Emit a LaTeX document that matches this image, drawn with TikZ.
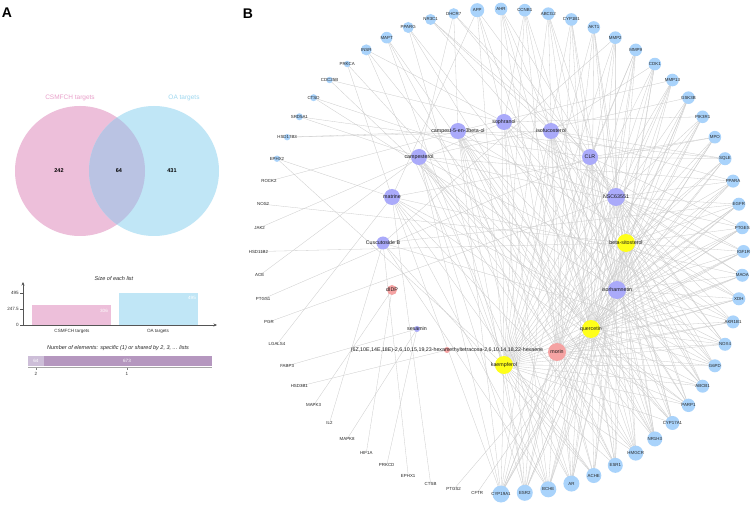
\documentclass[tikz,border=0pt]{standalone}
\usepackage{fontspec}
\setmainfont{Liberation Sans}
\usetikzlibrary{backgrounds,arrows.meta}
\definecolor{tblue}{HTML}{A9D3FB}
\definecolor{cpurple}{HTML}{AAAAFA}
\definecolor{cyellow}{HTML}{FFFF1A}
\definecolor{cred}{HTML}{F5A3A3}
\definecolor{vpink}{HTML}{EDBFDA}
\definecolor{vblue}{HTML}{C0E6F6}
\definecolor{vover}{HTML}{BAC3E3}
\definecolor{vpinktxt}{HTML}{E9A0CA}
\definecolor{vbluetxt}{HTML}{9FD8F0}
\definecolor{elight}{HTML}{CDBED8}
\definecolor{edark}{HTML}{B597BF}
\definecolor{edgecol}{HTML}{CBCBCB}
\definecolor{axcol}{HTML}{555555}
\begin{document}
\begin{tikzpicture}[x=1pt,y=-1pt,
  panel/.style={font=\fontsize{14}{14}\selectfont\bfseries,inner sep=0pt},
  vlab/.style={font=\fontsize{6.5}{7}\selectfont,inner sep=0pt},
  vnum/.style={font=\fontsize{5.5}{6}\selectfont\bfseries,inner sep=0pt},
  small/.style={font=\fontsize{4.6}{5}\selectfont,inner sep=0pt,text=black!80},
  btitle/.style={font=\fontsize{5.5}{6}\selectfont\itshape,inner sep=0pt,text=black!85},
  wnum/.style={font=\fontsize{4.6}{5}\selectfont,inner sep=0pt,text=white},
  axis/.style={draw=axcol,line width=0.5pt},
  tlabel/.style={font=\fontsize{4.4}{5}\selectfont,inner sep=0pt,text=black!85},
  clabel/.style={font=\fontsize{5.3}{6}\selectfont,inner sep=0pt,text=black!90},
  comp/.style={circle,inner sep=0pt,minimum size=#1},
  edge/.style={draw=edgecol,line width=0.3pt}]
\useasboundingbox (0,0) rectangle (753,505);
% ---------------- Panel A ----------------
\node[panel] (pA) at (7,13) {A};
\fill[vpink] (80,171) circle (65);
\fill[vblue] (154,171) circle (65);
\begin{scope}
  \clip (80,171) circle (65);
  \fill[vover] (154,171) circle (65);
\end{scope}
\node[vlab,text=vpinktxt] (vl1) at (70,98) {CSMFCH targets};
\node[vlab,text=vbluetxt] (vl2) at (184,98) {OA targets};
\node[vnum] (n1) at (59,171) {242};
\node[vnum] (n2) at (119,171) {64};
\node[vnum] (n3) at (172,171) {431};
% bar chart
\node[btitle] (bt1) at (114,279) {Size of each list};
\fill[vpink] (32,305) rectangle (111,325);
\fill[vblue] (119,293) rectangle (198,325);
\node[wnum] (b1) at (104,311) {306};
\node[wnum] (b2) at (192,298) {495};
\coordinate (o) at (23,325);
\coordinate (ytop) at (23,282);
\coordinate (xend) at (217,325);
\draw[axis,-{Stealth[length=3.5pt,width=3pt]}] (o) -- (ytop);
\draw[axis,-{Stealth[length=3.5pt,width=3pt]}] (o) -- (xend);
\foreach \yy/\tx [count=\k] in {293/495,309/247.5,325/0}{
  \draw[axis] (20,\yy) -- (23,\yy);
  \node[small,anchor=east] (tk\k) at (19,\yy) {\tx};
}
\node[small] (cat1) at (72,331) {CSMFCH targets};
\node[small] (cat2) at (158,331) {OA targets};
% elements bar
\node[btitle] (bt2) at (118,348) {Number of elements: specific (1) or shared by 2, 3, ... lists};
\fill[elight] (28,356) rectangle (44,366);
\fill[edark] (44,356) rectangle (212,366);
\node[wnum] (e1) at (36,361) {64};
\node[wnum] (e2) at (127,361) {673};
\draw[draw=black!35,line width=0.5pt] (28,367.5) -- (212,367.5);
\draw[draw=black!50,line width=0.4pt] (36,367.5) -- (36,369.5) (127,367.5) -- (127,369.5);
\node[small] (e3) at (36,374) {2};
\node[small] (e4) at (127,374) {1};
% ---------------- Panel B ----------------
\node[panel] (pB) at (248,13.5) {B};
% compounds
\foreach \n/\px/\py/\r/\col/\nm in {
 1/504/122/16/cpurple/sophranol,
 2/551/131/16/cpurple/isofucosterol,
 3/590/157/16/cpurple/CLR,
 4/616/197/18/cpurple/NSC63551,
 5/626/243/18/cyellow/beta-sitosterol,
 6/617/290/18/cpurple/isorhamnetin,
 7/591/329/18/cyellow/quercetin,
 8/557/352/18/cred/morin,
 9/504/365/18/cyellow/kaempferol,
 10/447/350/6/cred/{(6Z,10E,14E,18E)-2,6,10,15,19,23-hexamethyltetracosa-2,6,10,14,18,22-hexaene},
 11/417/329/6/cpurple/sesamin,
 12/392/290/10/cred/dIDP,
 13/383/243/13/cpurple/Cuscutoside B,
 14/392/197/16/cpurple/matrine,
 15/419/157/16/cpurple/campesterol,
 16/458/131/16/cpurple/campest-5-en-3beta-ol}{
  \node[comp=\r,fill=\col,label={[clabel]center:\nm}] (c\n) at (\px,\py) {};
}
% targets
\foreach \i/\nm/\r in {
1/DHCR7/5.5, 2/APP/7, 3/AHR/6.3, 4/CCNB1/6.3, 5/ABCG2/6.3, 6/CYP1B1/6.3,
7/AKT1/6.3, 8/MMP2/6.3, 9/MMP9/6.3, 10/CDK1/6.3, 11/MMP13/6.3, 12/GSK3B/6.3,
13/PIK3R1/6.3, 14/MPO/6.3, 15/SQLE/6.5, 16/PPARA/6.5, 17/EGFR/6.5, 18/PTGES/6.5,
19/IGF1R/6.5, 20/MAOA/6.5, 21/XDH/6.5, 22/AKR1B1/6.5, 23/NOX4/6.5, 24/G6PD/6.5,
25/ABCB1/6.5, 26/PARP1/6.7, 27/CYP17A1/7, 28/NR1H3/7.5, 29/HMGCR/7.5, 30/ESR1/7.5,
31/ACHE/7.5, 32/AR/8, 33/BCHE/8, 34/ESR2/8, 35/CYP19A1/8.5, 36/CFTR/0,
37/PTGS2/0, 38/CTSB/0, 39/EPHX1/0, 40/PRKCD/0, 41/HIF1A/0, 42/MAPK8/0,
43/IL2/0, 44/MAPK3/0, 45/HSD3B1/0, 46/FABP3/0, 47/LGALS4/0, 48/PGR/0,
49/PTGS1/0, 50/ACE/0, 51/HSD11B2/0, 52/JAK2/0, 53/NOS2/0, 54/ROCK2/0,
55/EPHX2/3.2, 56/HSD17B3/3.2, 57/SRD5A1/3.5, 58/CTSD/3.5, 59/CDC25B/3.2, 60/PRKCA/3.2,
61/INSR/5.5, 62/MAPT/5.8, 63/PPARG/5.5, 64/NR3C1/5.5}{
  \pgfmathsetmacro{\ang}{(\i-3)*5.625}
  \node[comp={2*\r},fill=tblue,label={[tlabel]center:\nm}] (t\i) at ({501+242.5*sin(\ang)},{251.5-242.5*cos(\ang)}) {};
}
\begin{pgfonlayer}{background}
\fill[white] (0,0) rectangle (753,505);
\foreach \i/\cl in {
1/{3,15,16,2}, 2/{7,9,1,14,4}, 3/{7,9,6,8,4}, 4/{7,9,6,8,1}, 5/{7,9,6,8,5},
6/{7,9,6,8,3}, 7/{7,9,6,8,4,5}, 8/{7,9,6,8,4,13}, 9/{7,9,6,8,4,3},
10/{7,9,6,8,5,2}, 11/{7,9,6,8,4,16}, 12/{7,9,6,8,5,15}, 13/{7,9,6,4,5,1},
14/{7,9,6,8,3,14}, 15/{7,9,6,5,2,3,16}, 16/{7,9,6,5,4,15,2}, 17/{7,9,6,8,4,5,13},
18/{7,9,6,8,5,3,15}, 19/{7,9,6,8,4,5,1}, 20/{7,9,6,8,4,14,1}, 21/{7,9,6,8,5,4,16},
22/{7,9,6,8,5,2,15}, 23/{7,9,6,8,4,5,3,13}, 24/{7,9,6,8,4,5,1,14},
25/{7,9,6,8,4,5,16,2}, 26/{7,9,6,8,4,5,14,1}, 27/{5,2,3,15,16,4,7,9},
28/{5,2,3,15,16,4,1,7,6}, 29/{5,2,3,15,16,4,7,9,14}, 30/{7,9,6,8,5,3,2,15,16},
31/{7,9,6,8,1,14,13,4,5}, 32/{7,9,6,8,5,2,3,15,16,4}, 33/{7,9,6,8,1,14,13,4,5,16},
34/{7,9,6,8,5,2,3,15,16,1}, 35/{7,9,6,8,5,2,3,15,16,4,14},
36/{6}, 37/{7}, 38/{14}, 39/{13}, 40/{11}, 41/{12}, 42/{11}, 43/{13}, 44/{12},
45/{10}, 46/{11}, 47/{14}, 48/{4}, 49/{3}, 50/{15}, 51/{5}, 52/{1}, 53/{5}, 54/{16},
55/{9,14}, 56/{2,16}, 57/{15,3}, 58/{4,6}, 59/{7,1}, 60/{7,14},
61/{7,9,1}, 62/{7,9,8}, 63/{7,9,6}, 64/{5,2,3}}{
  \foreach \c in \cl {\draw[edge] (c\c.center) -- (t\i.center);}
}
\end{pgfonlayer}
\end{tikzpicture}
\end{document}
